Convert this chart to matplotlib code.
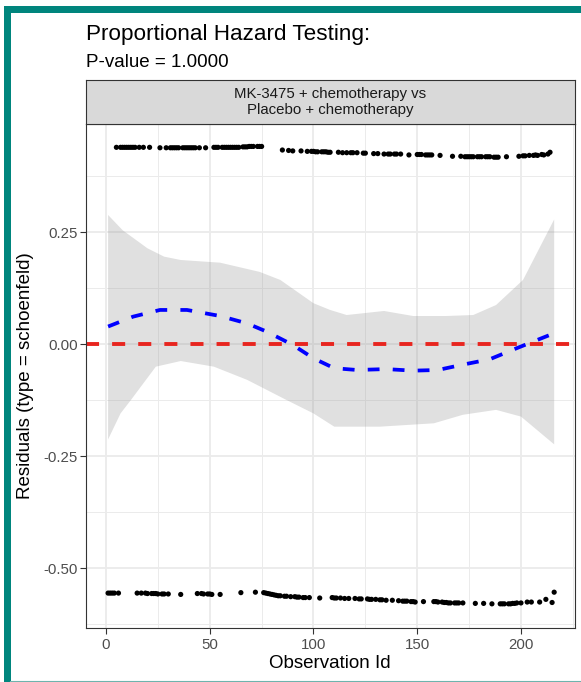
import matplotlib
matplotlib.use("Agg")
import matplotlib.pyplot as plt
from matplotlib.patches import Rectangle
from matplotlib.lines import Line2D
import numpy as np

plt.rcParams['font.family'] = ['Liberation Sans', 'DejaVu Sans']
plt.rcParams['lines.scale_dashes'] = False

# ---------------- data ----------------
title = "Proportional Hazard Testing:"
subtitle = "P-value = 1.0000"
strip_label = "MK-3475 + chemotherapy vs\nPlacebo + chemotherapy"
x_label = "Observation Id"
y_label = "Residuals (type = schoenfeld)"
x_ticks = [0, 50, 100, 150, 200]
y_ticks = [-0.50, -0.25, 0.00, 0.25]
y_tick_labels = ["-0.50", "-0.25", "0.00", "0.25"]

top_ids = [5, 7, 8, 9, 10, 11, 12, 13, 14, 16, 18, 21,
           26, 29, 31, 32, 33, 34, 35, 37, 38, 39, 40, 41, 42, 43, 45, 48,
           52, 53, 54, 56, 57, 58, 59, 60, 61, 62, 63, 64,
           66, 67, 68, 69, 70, 71, 73, 74, 75,
           85, 88, 90, 94, 97,
           99, 100, 101, 102, 104, 105, 106, 107, 108, 112,
           114, 116, 118, 119, 121,
           124, 125, 129, 131,
           134, 136, 137, 139, 140, 142,
           146,
           150, 151, 152, 154, 155, 156, 157, 161,
           167, 171, 173, 174, 175, 176, 177,
           179, 180, 181, 183, 184, 185, 187, 188, 189,
           193, 199,
           201, 202, 204, 206, 207, 208, 210, 211,
           213, 214]
top_res = [0.439, 0.439, 0.439, 0.439, 0.439, 0.439, 0.439, 0.439, 0.439, 0.439, 0.439, 0.439,
           0.438, 0.438, 0.438, 0.438, 0.438, 0.438, 0.438, 0.438, 0.438, 0.438, 0.438, 0.438, 0.438, 0.438, 0.438, 0.438,
           0.439, 0.439, 0.439, 0.439, 0.439, 0.439, 0.439, 0.439, 0.439, 0.439, 0.439, 0.439,
           0.440, 0.440, 0.440, 0.441, 0.441, 0.441, 0.441, 0.441, 0.441,
           0.433, 0.432, 0.431, 0.431, 0.430,
           0.430, 0.430, 0.429, 0.429, 0.429, 0.429, 0.429, 0.428, 0.428, 0.428,
           0.427, 0.427, 0.427, 0.427, 0.427,
           0.426, 0.426, 0.425, 0.425,
           0.424, 0.424, 0.424, 0.424, 0.424, 0.424,
           0.422,
           0.423, 0.423, 0.423, 0.422, 0.422, 0.422, 0.422, 0.421,
           0.419, 0.419, 0.418, 0.418, 0.418, 0.418, 0.418,
           0.418, 0.418, 0.418, 0.418, 0.418, 0.418, 0.417, 0.417, 0.417,
           0.418, 0.419,
           0.420, 0.420, 0.421, 0.421, 0.422, 0.421, 0.423, 0.422,
           0.424, 0.428]

bot_ids = [1, 2, 3, 4, 6,
           15, 17, 19, 20, 22, 23, 24, 25, 27, 28, 30,
           36,
           44, 46, 47, 49, 50, 51,
           55, 65, 72,
           76, 77, 78, 79, 80, 81, 82, 83, 84,
           86, 87, 89,
           91, 92, 93, 95, 96, 98,
           103,
           109, 110, 111, 113, 115, 117,
           120, 122, 123, 126,
           127, 128, 130, 132, 133, 135,
           138,
           141, 143, 144, 145, 147, 148, 149,
           153,
           158, 159, 160, 162, 163, 164, 165, 166, 168, 169, 170, 172,
           178, 182, 186,
           190, 191, 192, 194, 195, 196, 197, 198, 200,
           203, 205, 209, 212, 215, 216]
bot_res = [-0.556, -0.556, -0.556, -0.556, -0.556,
           -0.556, -0.556, -0.556, -0.557, -0.557, -0.557, -0.557, -0.558, -0.558, -0.558, -0.558,
           -0.559,
           -0.557, -0.557, -0.558, -0.558, -0.558, -0.559,
           -0.559, -0.555, -0.554,
           -0.555, -0.556, -0.557, -0.558, -0.559, -0.560, -0.561, -0.562, -0.562,
           -0.563, -0.563, -0.564,
           -0.564, -0.565, -0.565, -0.566, -0.566, -0.566,
           -0.567,
           -0.566, -0.567, -0.567, -0.567, -0.568, -0.568,
           -0.568, -0.569, -0.569, -0.569,
           -0.570, -0.570, -0.570, -0.571, -0.571, -0.572,
           -0.572,
           -0.573, -0.574, -0.574, -0.574, -0.575, -0.575, -0.576,
           -0.575,
           -0.575, -0.575, -0.576, -0.576, -0.577, -0.577, -0.578, -0.578, -0.578, -0.578, -0.578, -0.578,
           -0.579, -0.579, -0.580,
           -0.580, -0.580, -0.580, -0.580, -0.580, -0.579, -0.579, -0.578, -0.578,
           -0.576, -0.576, -0.576, -0.570, -0.577, -0.554]

smooth_x = [1, 13, 26, 39, 55, 68, 77.5, 90, 100, 110, 121, 135, 148, 160, 171, 185, 196, 210, 216]
smooth_y = [0.039, 0.061, 0.076, 0.076, 0.0625, 0.046, 0.0275, -0.002, -0.032, -0.054,
            -0.058, -0.056, -0.0595, -0.058, -0.047, -0.034, -0.013, 0.013, 0.024]

band_up_x = [1, 8, 20, 28, 36, 55, 74, 84, 92, 100, 108, 116, 134, 148, 164, 177, 188, 201, 216]
band_up_y = [0.288, 0.254, 0.2135, 0.195, 0.1875, 0.1815, 0.161, 0.143, 0.117, 0.091, 0.076,
             0.0647, 0.0737, 0.0625, 0.0625, 0.0647, 0.087, 0.143, 0.278]
band_lo_x = [1, 7, 12, 24, 36, 52, 68, 87, 100, 110, 132, 158, 172, 188, 200, 216]
band_lo_y = [-0.213, -0.155, -0.125, -0.0506, -0.038, -0.0506, -0.080, -0.125, -0.155,
             -0.1845, -0.1845, -0.177, -0.158, -0.147, -0.162, -0.224]

ref_level = 0.0

# ---------------- figure ----------------
W, H = 581, 682
fig = plt.figure(figsize=(W / 100, H / 100), dpi=100)
fig.patch.set_facecolor('white')

def fx(px):
    return px / W

def fy(py):
    return 1 - py / H

# teal frame
teal = '#00857d'
fig.add_artist(Rectangle((fx(4), fy(682)), fx(6.5), (682 - 6) / H, transform=fig.transFigure,
                         facecolor=teal, edgecolor='none'))
fig.add_artist(Rectangle((fx(4), fy(12.5)), 1 - fx(4), 6.5 / H, transform=fig.transFigure,
                         facecolor=teal, edgecolor='none'))
fig.add_artist(Line2D([fx(10), 1], [fy(680.5), fy(680.5)], transform=fig.transFigure,
                      color='#6fb3ad', lw=0.8))

# panel
pl, pr, pt, pb = 86, 574.5, 124, 627.5
ax = fig.add_axes([fx(pl), fy(pb), fx(pr - pl), (pb - pt) / H])
ax.set_xlim(-9.65, 225.8)
ax.set_ylim((344 - pb) / 448, (344 - pt) / 448)

ax.set_xticks(x_ticks)
ax.set_xticks([25, 75, 125, 175, 225], minor=True)
ax.set_yticks(y_ticks)
ax.set_yticklabels(y_tick_labels)
ax.set_yticks([-0.625, -0.375, -0.125, 0.125, 0.375], minor=True)
ax.grid(which='major', color='#ebebeb', lw=1.3)
ax.grid(which='minor', color='#ebebeb', lw=0.7)
ax.set_axisbelow(True)
ax.tick_params(which='minor', length=0)
ax.tick_params(which='major', length=4.5, width=0.8, color='#333333', labelcolor='#4d4d4d',
               labelsize=10.8)
ax.tick_params(axis='y', pad=1.5)
ax.tick_params(axis='x', pad=3)
for s in ax.spines.values():
    s.set_color('#333333')
    s.set_linewidth(0.8)

# confidence band
ax.fill(np.concatenate([band_up_x, band_lo_x[::-1]]),
        np.concatenate([band_up_y, band_lo_y[::-1]]),
        facecolor='#999999', alpha=0.3, edgecolor='none', zorder=1)

# reference line
ax.axhline(ref_level, color='#e8251f', lw=2.8, dashes=(9.4, 9.4), zorder=2)

# smooth
ax.plot(smooth_x, smooth_y, color='#0000ff', lw=2.7, dashes=(8.5, 9.5), zorder=3)

# points
ax.scatter(top_ids, top_res, s=14, color='black', edgecolors='none', zorder=4)
ax.scatter(bot_ids, bot_res, s=14, color='black', edgecolors='none', zorder=4)

# axis titles
fig.text(fx((pl + pr) / 2), fy(668), x_label, fontsize=13.5, color='black',
         ha='center', va='baseline')
fig.text(fx(26), fy((pt + pb) / 2), y_label, fontsize=13.5, color='black',
         ha='center', va='center', rotation=90)

# strip
st, sb = 80, pt
sax = fig.add_axes([fx(pl), fy(sb), fx(pr - pl), (sb - st) / H])
sax.set_facecolor('#d9d9d9')
sax.set_xticks([]); sax.set_yticks([])
for s in sax.spines.values():
    s.set_color('#333333')
    s.set_linewidth(0.8)
sax.text(0.5, 0.5, strip_label, ha='center', va='center', fontsize=10.8, color='#1a1a1a',
         linespacing=1.15, transform=sax.transAxes)

# titles
fig.text(fx(86), fy(40), title, fontsize=16.2, color='black', va='baseline', ha='left')
fig.text(fx(86), fy(67), subtitle, fontsize=13.5, color='black', va='baseline', ha='left')

fig.savefig('out.png', dpi=100, facecolor='white')
